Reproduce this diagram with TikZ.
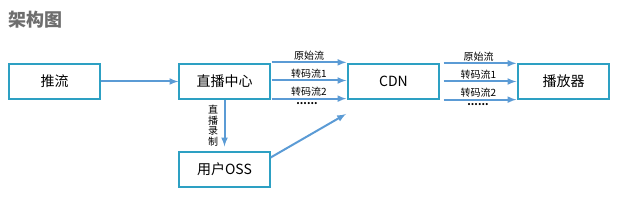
\documentclass[tikz,border=0pt]{standalone}
\usepackage{fontspec}
\setmainfont{Noto Sans CJK SC}
\usepackage{tikz}
\definecolor{boxteal}{RGB}{45,160,195}
\definecolor{arrowblue}{RGB}{91,155,213}
\definecolor{titlegray}{RGB}{110,110,110}
\usetikzlibrary{arrows}
\tikzstyle{block} = [draw=boxteal, line width=1.3pt, minimum width=91pt, minimum height=35pt, inner sep=0pt, font=\fontsize{14}{16}\selectfont]
\tikzstyle{line} = [draw=arrowblue, line width=2pt, -latex]
\tikzstyle{lab} = [font=\fontsize{10}{11}\selectfont, inner sep=1.5pt]

\begin{document}
\begin{tikzpicture}[x=1pt, y=-1pt, >=latex]
			\useasboundingbox (0,0) rectangle (642,205); %Bildbereich
			% Titel
			\node[anchor=west, text=titlegray, font=\fontsize{18}{20}\selectfont\bfseries] (titel) at (5,20) {架构图};
			% Kaesten
			\node[block] (push) at (54.5,81.5) {推流};
			\node[block] (center) at (224.5,81.5) {直播中心};
			\node[block] (oss) at (224.5,169.5) {用户OSS};
			\node[block] (cdn) at (393.5,81.5) {CDN};
			\node[block] (player) at (563.5,81.5) {播放器};
			\coordinate (cdnin) at (346,114);
			% Pfeile
			\draw[line] (push) -- (center);
			\draw[line, shorten >=5pt] (center) -- (oss) node[midway, left=4pt, lab, align=center, font=\fontsize{10}{10.5}\selectfont] (rec) {直\\播\\录\\制};
			\draw[line] ([yshift=12pt]oss.east) -- (cdnin);
			% Stroeme
			\foreach \a/\b/\label in {north east/north west/原始流, east/west/转码流1, south east/south west/转码流2}
			{
				\draw[line, shorten <=1pt, shorten >=1pt] ([yshift=1pt]center.\a) -- ([yshift=1pt]cdn.\b) node[midway, above, lab] {\label};
				\draw[line, shorten <=4pt, shorten >=1pt] (cdn.\a) -- (player.\b) node[midway, above, lab] {\label};
			}
			\node[lab] (dotsl) at (307,104) {\textbf{......}};
			\node[lab] (dotsr) at (478,105) {\textbf{......}};
		\end{tikzpicture}
\end{document}
